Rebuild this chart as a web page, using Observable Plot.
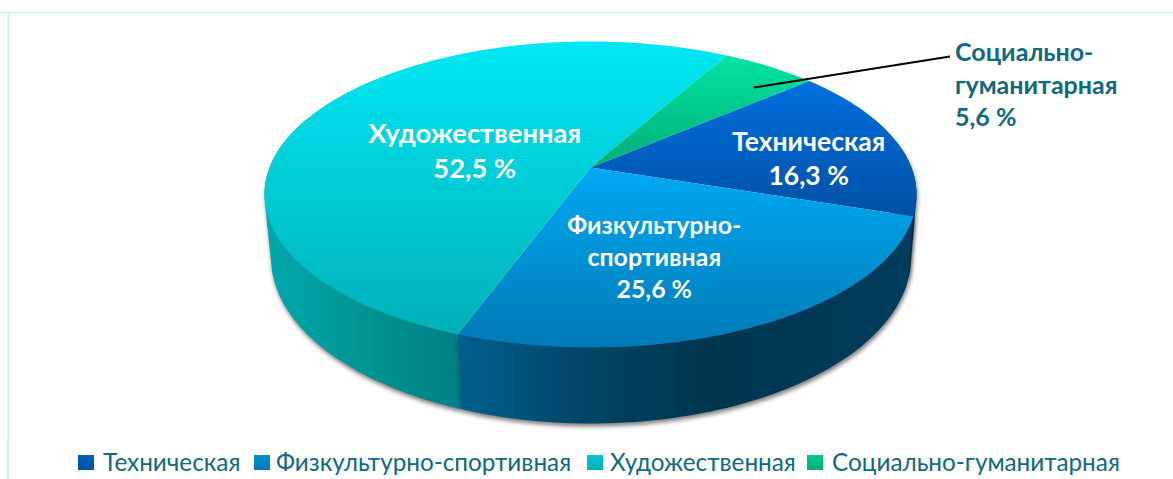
<!DOCTYPE html>
<html><head><meta charset="utf-8">
<script src="https://cdn.jsdelivr.net/npm/d3@7"></script>
<script src="https://cdn.jsdelivr.net/npm/@observablehq/plot@0.6"></script>
<style>
html,body{margin:0;padding:0;background:#fff;overflow:hidden}
svg{display:block}
#legend{position:relative;height:39px;font-family:Lato,"Open Sans",sans-serif;font-size:24.3px;color:#0f6a80;line-height:1}
#legend i{position:absolute;top:15px;width:16px;height:15px}
#legend span{position:absolute;top:10px;white-space:nowrap}
</style></head><body>
<div id="chart"></div><div id="legend"></div>
<script>
// Data
const categories = ["Техническая", "Физкультурно-спортивная", "Художественная", "Социально-гуманитарная"];
const shares = [16.3, 25.6, 52.5, 5.6];
const labelBreaks = ["Техническая", "Физкультурно-\nспортивная", "Художественная", "Социально-\nгуманитарная"];
const topColors = [["#0070e0","#0050a4"],["#00a9f2","#007ab6"],["#00e8f4","#00b0b8"],["#00e4a2","#00ad78"]];
const legendColors = [["#0060c0","#0050a4"],["#0090d0","#007ab6"],["#00c8d4","#00b0b8"],["#00c890","#00ad78"]];
const sideStops = [
  [[0,"#003f60"],[1,"#003a5a"]],
  [[0,"#00608f"],[0.28,"#004565"],[0.55,"#00354e"],[1,"#003c5c"]],
  [[0,"#00a9ae"],[0.6,"#00908f"],[1,"#007f85"]],
  [[0,"#00a080"],[1,"#008060"]]
];

// Pie geometry in chart units
const startDeg = -40.6, tilt = -0.176;
const topDisc = {cx:590, cy:194, rx:326, ry:153};
const baseDisc = {cx:590.5, cy:257, rx:320, ry:166};
const visibleSide = [[-10,400],[-400,400],[-400,200],[0,0]];
const rad = Math.PI/180, k = Math.sqrt(1-tilt*tilt);
function project(deg, r, d){
  const u = r*Math.cos(deg*rad), v = r*Math.sin(deg*rad), q = 1+tilt*v;
  return {x:d.cx+d.rx*u*k/q, y:d.cy+d.ry*(v+tilt)/q};
}
let cursor = startDeg;
const slices = categories.map((name,i)=>{
  const a0 = cursor, a1 = cursor + shares[i]*3.6; cursor = a1;
  return {name,i,a0,a1,mid:(a0+a1)/2};
});
const arc = (a0,a1,d)=>{const n=Math.max(2,Math.ceil((a1-a0)/1.5)),p=[];for(let j=0;j<=n;j++)p.push(project(a0+(a1-a0)*j/n,1,d));return p;};
const wedge = s=>[project(0,0,topDisc),...arc(s.a0,s.a1,topDisc)];
const side = s=>{
  const lo=Math.max(s.a0,visibleSide[s.i][0]),hi=Math.min(s.a1,visibleSide[s.i][1]);
  if(hi<=lo) return [];
  const pts=[...arc(lo,hi,topDisc),...arc(lo,hi,baseDisc)].map(p=>[p.x,p.y]);
  return d3.polygonHull(pts).map(([x,y])=>({x,y}));
};
const fmt = v=>String(v).replace(".",",")+" %";
const labelLayout = [
  {r:.7,dx:3,dy:9,size:26.5},
  {r:.6,dx:-29,dy:0,size:24.9},
  {r:.42,dx:3,dy:7,size:27.3},
  null
];
const defs = ()=>{
  const D = d3.create("svg:defs");
  topColors.forEach((c,i)=>{
    const g=D.append("linearGradient").attr("id","top"+i).attr("x1",0).attr("x2",0).attr("y1",0).attr("y2",1);
    g.append("stop").attr("offset",0).attr("stop-color",c[0]);
    g.append("stop").attr("offset",1).attr("stop-color",c[1]);
  });
  sideStops.forEach((st,i)=>{
    const g=D.append("linearGradient").attr("id","side"+i).attr("x1",0).attr("x2",1).attr("y1",0).attr("y2",0);
    st.forEach(([o,c])=>g.append("stop").attr("offset",o).attr("stop-color",c));
  });
  return D.node();
};
const frameColor="#c9f1fb";
const sideOrder=[0,2,1];
const socAnchor=project(slices[3].mid+4,.82,topDisc);
const socLabel={x:954.5,y:83};
const marks=[
  defs,
  Plot.ruleY([12],{stroke:frameColor,strokeWidth:1.5}),
  Plot.ruleX([8],{y1:12,y2:440,stroke:frameColor,strokeWidth:2}),
  ...sideOrder.map(i=>Plot.line(side(slices[i]),{x:"x",y:"y",fill:`url(#side${i})`,stroke:"none",imageFilter:"drop-shadow(1px 3px 2px rgba(0,0,0,.5))"})),
  ...slices.map(s=>Plot.line(wedge(s),{x:"x",y:"y",fill:`url(#top${s.i})`,stroke:"none"})),
  Plot.link([0],{x1:()=>socAnchor.x,y1:()=>socAnchor.y,x2:()=>socLabel.x-5,y2:()=>socLabel.y-27,stroke:"#000",strokeWidth:2}),
  ...slices.slice(0,3).map(s=>{
    const l=labelLayout[s.i],p=project(s.mid,l.r,topDisc);
    return Plot.text([s],{x:()=>p.x,y:()=>p.y,dx:l.dx,dy:l.dy,text:d=>labelBreaks[d.i]+"\n"+fmt(shares[d.i]),
      fill:"#fff",fontWeight:700,fontSize:l.size,lineHeight:1.28,fontFamily:"Lato,'Open Sans',sans-serif"});
  }),
  Plot.text([slices[3]],{x:()=>socLabel.x,y:()=>socLabel.y,text:d=>labelBreaks[d.i]+"\n"+fmt(shares[d.i]),textAnchor:"start",
    fill:"#0f6a80",fontWeight:700,fontSize:25,lineHeight:1.3,fontFamily:"Lato,'Open Sans',sans-serif"})
];
const chart=Plot.plot({width:1173,height:440,margin:0,
  x:{domain:[0,1173],axis:null},y:{domain:[440,0],axis:null},style:{background:"#fff"},marks});
document.getElementById("chart").append(chart);
const legendX=[[78,103],[254,276],[587,610],[807,832]];
const L=d3.select("#legend");
L.append("div").style("position","absolute").style("left","7px").style("width","2px").style("top",0).style("height","39px").style("background",frameColor);
categories.forEach((c,i)=>{
  L.append("i").style("left",legendX[i][0]+"px").style("background",`linear-gradient(${legendColors[i][0]},${legendColors[i][1]})`);
  L.append("span").style("left",legendX[i][1]+"px").text(c);
});
</script></body></html>
